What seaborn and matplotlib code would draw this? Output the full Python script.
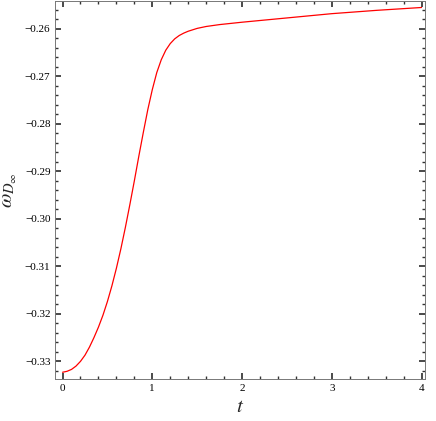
import matplotlib
matplotlib.use("Agg")
import matplotlib.pyplot as plt
import seaborn as sns
import pandas as pd
from matplotlib.ticker import MultipleLocator

t = [0, 0.05, 0.1, 0.15, 0.2, 0.25, 0.3, 0.35, 0.4, 0.45, 0.5, 0.55, 0.6, 0.65, 0.7, 0.75, 0.8, 0.85,
     0.9, 0.95, 1.0, 1.05, 1.1, 1.15, 1.2, 1.25, 1.3, 1.35, 1.4, 1.5, 1.6, 1.75, 2, 2.5, 3, 3.5, 4]
w = [-0.3323, -0.3321, -0.3317, -0.3310, -0.3300, -0.3287, -0.3270, -0.3250, -0.3228, -0.3203,
     -0.3174, -0.3141, -0.3104, -0.3063, -0.3018, -0.2970, -0.2920, -0.2868, -0.2818, -0.2770,
     -0.2728, -0.2692, -0.2665, -0.2645, -0.2631, -0.2621, -0.2614, -0.2609, -0.2605, -0.2599,
     -0.2595, -0.2591, -0.2586, -0.2577, -0.2568, -0.2561, -0.2555]
df = pd.DataFrame({"t": t, "w": w})

sns.set_theme(style="ticks")
plt.rcParams['font.family'] = ['Liberation Serif', 'DejaVu Serif']
plt.rcParams['mathtext.fontset'] = 'stix'

fig, ax = plt.subplots(figsize=(4.36, 4.21), dpi=100)
sns.lineplot(data=df, x="t", y="w", color="red", lw=0.9, ax=ax)
ax.set_xlim(-0.08, 4.04)
ax.set_ylim(-0.3337, -0.2541)
ax.xaxis.set_major_locator(MultipleLocator(1))
ax.xaxis.set_minor_locator(MultipleLocator(0.2))
ax.yaxis.set_major_locator(MultipleLocator(0.01))
ax.yaxis.set_minor_locator(MultipleLocator(0.002))
ax.set_yticklabels([f"{v:.2f}".replace("-", "\u2212") for v in ax.get_yticks()])
ax.tick_params(which='both', direction='in', top=True, right=True, labelsize=8, colors='#333333', labelcolor='black')
ax.tick_params(which='major', length=4)
ax.tick_params(which='minor', length=2)
for s in ax.spines.values():
    s.set_color('#777777'); s.set_linewidth(0.7)
ax.set_xlabel(r"$t$", fontsize=15)
ax.set_ylabel(r"$\omega_{D_\infty}$", fontsize=15)
fig.subplots_adjust(left=0.127, right=0.975, top=0.998, bottom=0.1)
fig.savefig("out.png")
